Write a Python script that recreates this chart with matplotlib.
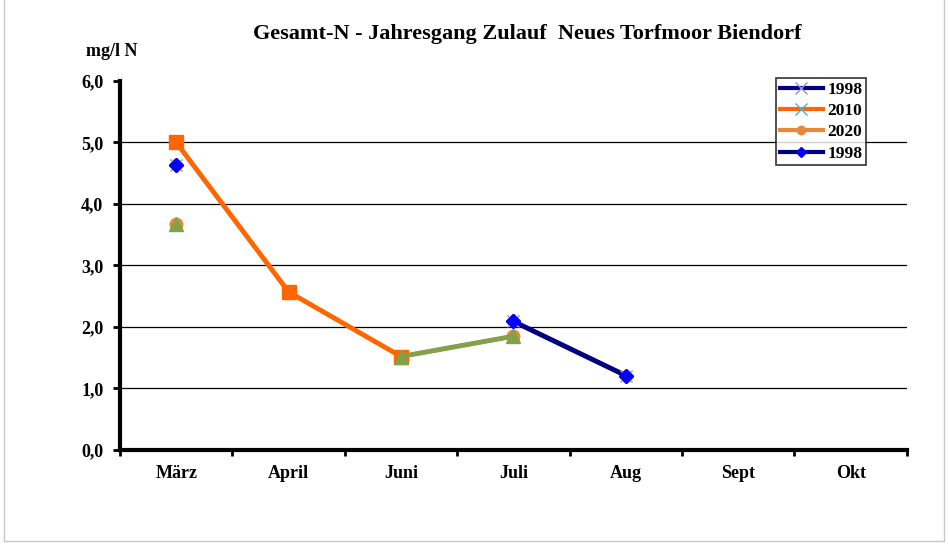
import matplotlib.pyplot as plt
import numpy as np
from matplotlib.patches import Rectangle

months = ["März", "April", "Juni", "Juli", "Aug", "Sept", "Okt"]
nan = np.nan
n1998 = [4.63, nan, nan, 2.09, 1.21, nan, nan]
n2010 = [5.0, 2.57, 1.52, nan, nan, nan, nan]
n2020 = [3.67, nan, 1.52, 1.85, nan, nan, nan]
n1998b = [4.63, nan, nan, 2.09, 1.21, nan, nan]

plt.rcParams['font.family'] = ['Liberation Serif', 'DejaVu Serif']
plt.rcParams['font.weight'] = 'bold'

fig = plt.figure(figsize=(9.48, 5.46), dpi=100)
ax = fig.add_axes([0.1266, 0.1758, 0.830, 0.676])
fig.patches.append(Rectangle((0.004, 0.01), 0.992, 1.2, transform=fig.transFigure,
                             fill=False, edgecolor='#c8c8c8', lw=1.0))

x = np.arange(len(months))

ax.plot(x, n1998b, color='#0000ff', lw=3, marker='D', ms=7, mfc='#0000ff', mec='#0000ff',
        zorder=3)
ax.plot(x, n1998, color='#000080', lw=3.5, marker='x', ms=9, mew=1, mec='#9a8fc8', zorder=4)
ax.plot(x, n1998b, ls='none', marker='D', ms=7, color='#0000ff', zorder=5)
ax.plot(x, n2010, color='#ff6600', lw=3.5, marker='s', ms=10, zorder=4)
ax.plot(x, n2020, color='#e8893a', lw=3, marker='o', ms=9, zorder=3)
ax.plot(x, n2020, color='#84a04a', lw=3.5, marker='^', ms=10, zorder=5)

# legend handles
h1, = ax.plot([], [], color='#000080', lw=3, marker='x', ms=9, mew=1, mec='#9a8fc8')
h2, = ax.plot([], [], color='#ff6600', lw=3, marker='x', ms=9, mew=1, mec='#4fb0c6')
h3, = ax.plot([], [], color='#e8893a', lw=3, marker='o', ms=6)
h4, = ax.plot([], [], color='#000080', lw=3, marker='D', ms=5, mfc='#0000ff', mec='#0000ff')
leg = ax.legend([h1, h2, h3, h4], ['1998', '2010', '2020', '1998'],
                loc='upper left', bbox_to_anchor=(0.834, 1.008), frameon=True,
                fancybox=False, edgecolor='black', handlelength=2.5, handletextpad=0.25,
                borderpad=0.2, labelspacing=0.3, borderaxespad=0,
                prop={'family': 'Liberation Serif', 'weight': 'bold', 'size': 12.5})
leg.get_frame().set_linewidth(1.2)
leg.set_zorder(10)

ax.set_xlim(-0.5, 6.5)
ax.set_ylim(0, 6)
ax.set_yticks(np.arange(0, 7, 1))
ax.set_yticklabels([f"{v:.1f}".replace('.', ',') for v in range(7)])
ax.set_xticks(x)
ax.set_xticklabels(months)
ax.set_xticks(np.arange(-0.5, 7, 1), minor=True)
ax.tick_params(axis='x', which='major', length=0, pad=11, labelsize=13)
ax.tick_params(axis='x', which='minor', length=4, width=2, direction='out')
ax.tick_params(axis='y', length=5, width=2, direction='out', pad=7, labelsize=13)
for lab in ax.get_xticklabels() + ax.get_yticklabels():
    lab.set_fontweight('bold')

for v in range(1, 6):
    ax.axhline(v, color='black', lw=0.9, zorder=1)

for s in ['top', 'right']:
    ax.spines[s].set_visible(False)
ax.spines['left'].set_linewidth(3)
ax.spines['bottom'].set_linewidth(3)

fig.text(0.556, 0.937, "Gesamt-N - Jahresgang Zulauf  Neues Torfmoor Biendorf",
         ha='center', va='center', fontsize=16, fontweight='bold')
fig.text(0.118, 0.905, "mg/l N", ha='center', va='center', fontsize=13, fontweight='bold')

fig.savefig("out.png", dpi=100)
